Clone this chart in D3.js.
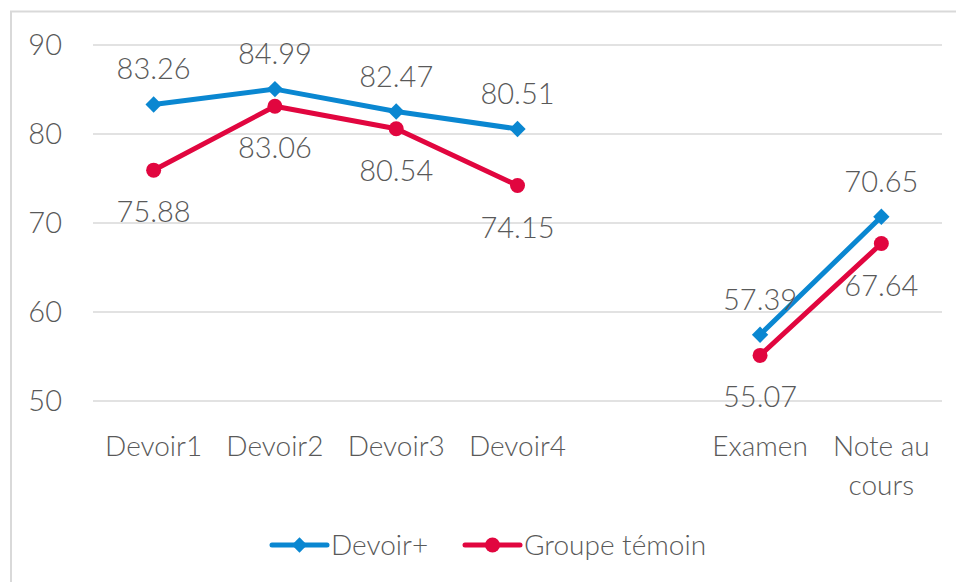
<!DOCTYPE html>
<html>
<head>
<meta charset="utf-8">
<script src="https://cdn.jsdelivr.net/npm/d3@7"></script>
<style>
html,body{margin:0;padding:0;background:#fff;}
svg{display:block;}
text{font-family:"Lato","Open Sans",sans-serif;font-weight:300;fill:#595959;}
</style>
</head>
<body>
<svg id="chart" width="956" height="582"></svg>
<script>
const categories = ["Devoir1","Devoir2","Devoir3","Devoir4","","Examen","Note au cours"];
const devoirPlus = [83.26,84.99,82.47,80.51,null,57.39,70.65];
const temoin = [75.88,83.06,80.54,74.15,null,55.07,67.64];
const yTicks = [50,60,70,80,90];
const seriesNames = ["Devoir+","Groupe témoin"];
const seriesColors = ["#0a87d1","#e1063f"];

(function(){
const svg = d3.select("#chart");
const pLeft = 93, pRight = 942, pTop = 44.5, pBottom = 400.5;

svg.append("rect").attr("x",11).attr("y",11.5).attr("width",960).attr("height",600)
  .attr("fill","none").attr("stroke","#d9d9d9").attr("stroke-width",2);

const x = d3.scaleBand().domain(d3.range(categories.length)).range([pLeft,pRight]).padding(0);
const y = d3.scaleLinear().domain([50,90]).range([pBottom,pTop]);
const cx = i => x(i) + x.bandwidth()/2;

const yAxis = d3.axisLeft(y).tickValues(yTicks).tickSize(-(pRight-pLeft)).tickFormat(d3.format("d"));
const gy = svg.append("g").attr("transform",`translate(${pLeft},0)`).call(yAxis);
gy.select(".domain").remove();
gy.selectAll(".tick line").attr("stroke","#d9d9d9").attr("stroke-width",1.5);
gy.selectAll(".tick text").attr("x",-31).attr("dy","0.36em").attr("text-anchor","end")
  .style("font-size","29px").attr("fill","#595959");

const xAxis = d3.axisBottom(x).tickSize(0).tickFormat(i => categories[i]);
const gx = svg.append("g").attr("transform",`translate(0,${pBottom})`).call(xAxis);
gx.select(".domain").remove();
gx.selectAll(".tick text").style("font-size","28px").attr("fill","#595959").attr("dy",null)
  .each(function(i){
    const t = d3.select(this);
    const words = categories[i].split(" ");
    t.text(null);
    let ln = [], lines = [];
    const tmp = t.append("tspan");
    words.forEach(w=>{
      ln.push(w);
      tmp.text(ln.join(" "));
      if (tmp.node().getComputedTextLength() > x.bandwidth()-8 && ln.length>1){
        ln.pop(); lines.push(ln.join(" ")); ln=[w];
      }
    });
    lines.push(ln.join(" "));
    tmp.remove();
    lines.forEach((l,k)=>{
      t.append("tspan").attr("x",0).attr("y",55.5 + k*39).text(l);
    });
  });

const seriesData = [devoirPlus, temoin];
const lineGen = d3.line().defined(d=>d.v!=null).x(d=>cx(d.i)).y(d=>y(d.v));
const diamond = d3.symbol(d3.symbolDiamond2 || d3.symbolDiamond);

seriesData.forEach((vals,s)=>{
  const pts = vals.map((v,i)=>({i,v}));
  svg.append("path").datum(pts).attr("d",lineGen).attr("fill","none")
    .attr("stroke",seriesColors[s]).attr("stroke-width",5).attr("stroke-linejoin","round").attr("stroke-linecap","round");
  const valid = pts.filter(d=>d.v!=null);
  if (s===0){
    svg.selectAll(null).data(valid).enter().append("path")
      .attr("d",diamond.size(170)())
      .attr("transform",d=>`translate(${cx(d.i)},${y(d.v)})`)
      .attr("fill",seriesColors[s]);
  } else {
    svg.selectAll(null).data(valid).enter().append("circle")
      .attr("cx",d=>cx(d.i)).attr("cy",d=>y(d.v)).attr("r",7.5).attr("fill",seriesColors[s]);
  }
  svg.selectAll(null).data(valid).enter().append("text")
    .attr("x",d=>cx(d.i)).attr("y",d=>y(d.v) + (s===0 ? -25 : 52))
    .attr("text-anchor","middle").style("font-size","29px").attr("fill","#595959")
    .text(d=>d3.format(".2f")(d.v));
});

const legY = 545;
const legItems = [{x1:272,x2:327,tx:331},{x1:465,x2:520,tx:524}];
legItems.forEach((it,s)=>{
  const g = svg.append("g");
  g.append("line").attr("x1",it.x1).attr("x2",it.x2).attr("y1",legY).attr("y2",legY)
    .attr("stroke",seriesColors[s]).attr("stroke-width",5).attr("stroke-linecap","round");
  const mx = (it.x1+it.x2)/2;
  if (s===0){
    g.append("path").attr("d",diamond.size(150)())
      .attr("transform",`translate(${mx},${legY})`).attr("fill",seriesColors[s]);
  } else {
    g.append("circle").attr("cx",mx).attr("cy",legY).attr("r",7.5).attr("fill",seriesColors[s]);
  }
  g.append("text").attr("x",it.tx).attr("y",legY).attr("dy","0.36em")
    .style("font-size","28px").attr("fill","#595959").text(seriesNames[s]);
});
})();
</script>
</body>
</html>
